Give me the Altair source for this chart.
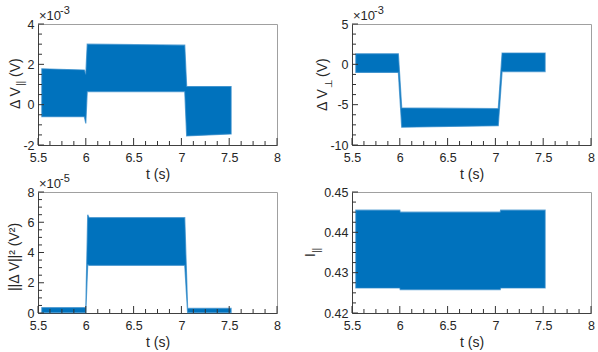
import altair as alt
import pandas as pd

FONT = "Liberation Sans"
BLUE = "#0072BD"
TEXT = "#262626"
AXIS = "#404040"
TICK = "#333333"
BOX = "#a0a0a0"

W, H = 239, 121

# time axis
T_RANGE = [5.5, 8.0]
X_MAJOR = [5.5, 6.0, 6.5, 7.0, 7.5, 8.0]

# envelope of the parallel voltage deviation (V)
par_t = [5.54, 5.985, 6.0, 6.015, 7.035, 7.055, 7.52]
par_hi = [1.78e-3, 1.72e-3, 1.5e-3, 3.0e-3, 2.95e-3, 0.9e-3, 0.9e-3]
par_lo = [-0.6e-3, -0.6e-3, -0.93e-3, 0.65e-3, 0.65e-3, -1.55e-3, -1.45e-3]

# envelope of the perpendicular voltage deviation (V)
perp_t = [5.54, 5.985, 6.02, 7.03, 7.07, 7.52]
perp_hi = [1.3e-3, 1.3e-3, -5.4e-3, -5.5e-3, 1.4e-3, 1.4e-3]
perp_lo = [-1.0e-3, -1.0e-3, -7.8e-3, -7.6e-3, -0.9e-3, -0.9e-3]

# envelope of the squared deviation norm (V^2)
norm_t = [5.54, 6.0, 6.02, 6.035, 7.035, 7.065, 7.52]
norm_hi = [0.35e-5, 0.35e-5, 6.5e-5, 6.3e-5, 6.3e-5, 0.3e-5, 0.3e-5]
norm_lo = [0.03e-5, 0.03e-5, 3.2e-5, 3.15e-5, 3.15e-5, 0.03e-5, 0.03e-5]

# envelope of the parallel current
cur_t = [5.54, 6.0, 6.005, 7.05, 7.055, 7.52]
cur_hi = [0.4455, 0.4455, 0.4450, 0.4450, 0.4455, 0.4455]
cur_lo = [0.4262, 0.4262, 0.4258, 0.4258, 0.4262, 0.4262]

# y axes
PAR_DOMAIN, PAR_MAJOR = [-2e-3, 4e-3], [-2e-3, 0.0, 2e-3, 4e-3]
PERP_DOMAIN, PERP_MAJOR = [-10e-3, 5e-3], [-10e-3, -5e-3, 0.0, 5e-3]
NORM_DOMAIN, NORM_MAJOR = [0.0, 8e-5], [0.0, 2e-5, 4e-5, 6e-5, 8e-5]
CUR_DOMAIN, CUR_MAJOR = [0.42, 0.45], [0.42, 0.43, 0.44, 0.45]


def minors(major):
    out = []
    for a, b in zip(major[:-1], major[1:]):
        step = (b - a) / 4
        out += [a + k * step for k in range(1, 4)]
    return out


def text(s, x, y, size=14, angle=None, align="left", baseline="middle"):
    kw = dict(font=FONT, fontSize=size, color=TEXT, align=align, baseline=baseline)
    if angle is not None:
        kw["angle"] = angle
    return alt.Chart(pd.DataFrame({"s": [s]})).mark_text(**kw).encode(
        text="s:N", x=alt.value(x), y=alt.value(y)
    )


def panel(t, lo, hi, y_domain, y_major, label_expr, title_parts, exponent=None):
    xs = alt.Scale(domain=T_RANGE, nice=False, zero=False)
    ys = alt.Scale(domain=y_domain, nice=False, zero=False)
    x_axis = alt.Axis(values=X_MAJOR, labelExpr="toString(datum.value)", labelFlush=False,
                      title="t (s)", labelPadding=6, titlePadding=4)
    y_axis = alt.Axis(values=y_major, labelExpr=label_expr, labelFlush=False,
                      title=None, labelPadding=4)

    band = pd.DataFrame({"t": t, "lo": lo, "hi": hi})
    area = alt.Chart(band).mark_area(
        color=BLUE, interpolate="linear",
        stroke="#2a86c8", strokeWidth=1.2, strokeOpacity=0.7,
    ).encode(
        x=alt.X("t:Q", scale=xs, axis=x_axis),
        y=alt.Y("lo:Q", scale=ys, axis=y_axis),
        y2="hi:Q",
    )

    # inward ticks along the bottom and left edges (major longer than minor)
    def xticks(vals, length):
        return alt.Chart(pd.DataFrame({"t": vals})).mark_rule(color=TICK, strokeWidth=1).encode(
            x=alt.X("t:Q", scale=xs, axis=x_axis), y=alt.value(H), y2=alt.value(H - length)
        )

    def yticks(vals, length):
        return alt.Chart(pd.DataFrame({"lo": vals})).mark_rule(color=TICK, strokeWidth=1).encode(
            y=alt.Y("lo:Q", scale=ys, axis=y_axis), x=alt.value(0), x2=alt.value(length)
        )

    layers = [area,
              xticks(X_MAJOR, 7), xticks(minors(X_MAJOR), 4),
              yticks(y_major, 6), yticks(minors(y_major), 4)]
    for part in title_parts:
        layers.append(text(*part))
    if exponent is not None:
        layers.append(text("\u00d710", 1, -4, size=13, baseline="alphabetic"))
        layers.append(text(exponent, 22, -10, size=11, baseline="alphabetic"))
    return alt.layer(*layers).properties(width=W, height=H)


p1 = panel(
    par_t, par_lo, par_hi, PAR_DOMAIN, PAR_MAJOR,
    "toString(round(datum.value * 1000))",
    [("\u0394 V", -22, 85, 14, 270),
     ("||", -17, 62, 10, 270),
     ("(V)", -22, 53, 14, 270)],
    exponent="-3",
)
p2 = panel(
    perp_t, perp_lo, perp_hi, PERP_DOMAIN, PERP_MAJOR,
    "toString(round(datum.value * 1000))",
    [("\u0394 V", -29, 87, 14, 270),
     ("\u22a5", -23, 64, 10, 270),
     ("(V)", -29, 53, 14, 270)],
    exponent="-3",
)
p3 = panel(
    norm_t, norm_lo, norm_hi, NORM_DOMAIN, NORM_MAJOR,
    "toString(round(datum.value * 100000))",
    [("||\u0394 V||\u00b2 (V\u00b2)", -23, 65, 14, 270, "center")],
    exponent="-5",
)
p4 = panel(
    cur_t, cur_lo, cur_hi, CUR_DOMAIN, CUR_MAJOR,
    "format(datum.value, '.2f')",
    [("I", -41, 65, 14, 270),
     ("||", -35, 61, 10, 270)],
)

chart = (
    alt.concat(p1, p2, p3, p4, columns=2, bounds="flush",
               spacing=alt.RowColnumber(row=47, column=75))
    .properties(padding={"left": 7, "top": 4, "right": 2, "bottom": 2}, background="white")
    .configure_view(stroke=BOX, strokeWidth=1)
    .configure_axis(
        grid=False, ticks=False, tickSize=0, domainColor=AXIS, domainWidth=1,
        labelFont=FONT, labelFontSize=12.5, labelColor=TEXT,
        titleFont=FONT, titleFontSize=14, titleColor=TEXT, titleFontWeight="normal",
    )
)

chart.save("out.html", embed_options={"renderer": "svg", "actions": False})
